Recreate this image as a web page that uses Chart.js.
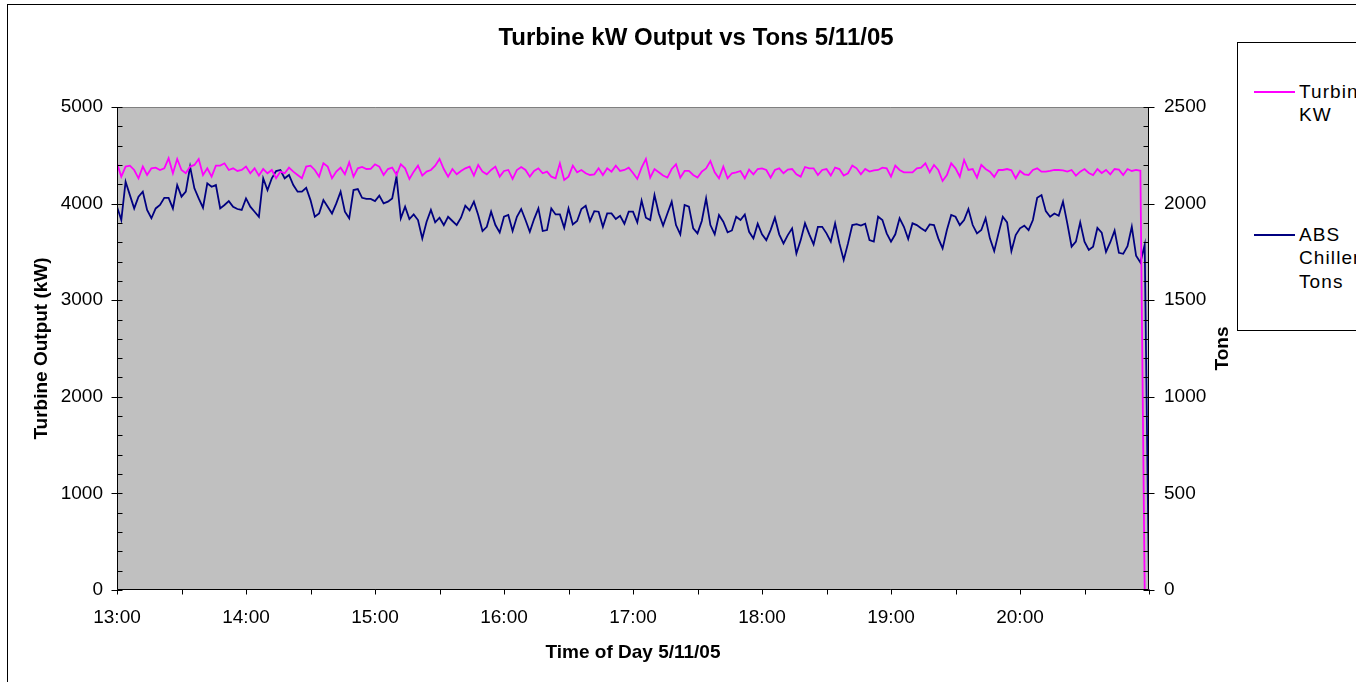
<!DOCTYPE html>
<html>
<head>
<meta charset="utf-8">
<title>Turbine kW Output vs Tons 5/11/05</title>
<script src="https://cdn.jsdelivr.net/npm/chart.js@4.4.1/dist/chart.umd.min.js"></script>
<style>
  html, body { margin: 0; padding: 0; background: #fff; overflow: hidden; }
  #wrap { position: relative; width: 1392px; height: 682px; }
  #legend {
    position: absolute; left: 1237px; top: 42px; width: 140px; height: 287px;
    border: 1px solid #000; background: #fff;
    font: 19px "Liberation Sans", Arial, sans-serif; color: #000;
  }
  .sw { position: absolute; left: 16px; width: 41px; height: 0; border-top: 2px solid; }
  .txt { position: absolute; left: 61px; line-height: 23.3px; white-space: nowrap; letter-spacing: 1.1px; }
</style>
</head>
<body>
<div id="wrap">
  <canvas id="c" width="1392" height="682"></canvas>
  <div id="legend">
    <div class="sw" style="top:48px;border-color:#FF00FF"></div>
    <div class="txt" style="top:37px">Turbine<br>KW</div>
    <div class="sw" style="top:191px;border-color:#000080"></div>
    <div class="txt" style="top:180px">ABS<br>Chiller<br>Tons</div>
  </div>
</div>
<script>
const FONT = '"Liberation Sans", Arial, sans-serif';

// minutes after 13:00, one reading every 2 minutes up to 21:00
const minutes = [];
for (let m = 0; m <= 480; m += 2) minutes.push(m);

// Turbine KW (left axis)
const turbineKW = [
  4417, 4279, 4383, 4393, 4348, 4262, 4383, 4296, 4365, 4372,
  4348, 4365, 4469, 4314, 4462, 4348, 4314, 4383, 4400, 4462,
  4296, 4365, 4279, 4393, 4393, 4417, 4348, 4365, 4338, 4348,
  4383, 4314, 4365, 4290, 4358, 4314, 4348, 4262, 4331, 4314,
  4372, 4331, 4296, 4262, 4383, 4393, 4348, 4279, 4417, 4383,
  4262, 4331, 4372, 4303, 4427, 4279, 4365, 4379, 4358,
  4359, 4407, 4383, 4296, 4358, 4372, 4296, 4407, 4365, 4255,
  4331, 4393, 4290, 4331, 4348, 4393, 4462, 4358, 4279, 4358,
  4303, 4338, 4365, 4383, 4290, 4400, 4331, 4303, 4348, 4383,
  4279, 4338, 4348, 4255, 4348, 4379, 4348, 4279, 4338, 4365,
  4314, 4331, 4279, 4262, 4417, 4245, 4279, 4393, 4324, 4348,
  4314, 4296, 4303, 4365, 4296, 4365, 4331, 4393, 4338, 4348,
  4372, 4317, 4255, 4372, 4462, 4269, 4358, 4324, 4290, 4269,
  4358, 4407, 4269, 4338, 4338, 4296, 4269, 4331, 4365, 4441,
  4324, 4262, 4383, 4262, 4314, 4324, 4338, 4262, 4352, 4303,
  4358, 4365, 4348, 4269, 4348, 4365, 4314, 4352, 4358, 4303,
  4279, 4379, 4365, 4365, 4296, 4348, 4358, 4290, 4372, 4358,
  4290, 4314, 4393, 4365, 4303, 4358, 4331, 4345, 4348,
  4372, 4365, 4279, 4393, 4348, 4324, 4324, 4324, 4365, 4372,
  4417, 4324, 4400, 4348, 4234, 4296, 4417, 4365, 4279, 4452,
  4348, 4358, 4269, 4400, 4358, 4331, 4276, 4348, 4348, 4358,
  4345, 4262, 4338, 4303, 4296, 4348, 4365, 4331, 4331, 4338,
  4348, 4348, 4345, 4331, 4348, 4290, 4331, 4358, 4317, 4296,
  4358, 4317, 4348, 4303, 4358, 4352, 4296, 4358, 4338, 4348, 4340,
  0, 0
];

// ABS Chiller Tons (right axis)
const chillerTons = [
  1984, 1915, 2113, 2044, 1975, 2036, 2062, 1967, 1924, 1975,
  1993, 2030, 2030, 1975, 2096, 2036, 2062, 2191, 2079, 2027,
  1979, 2105, 2087, 2096, 1975, 1993, 2013, 1984, 1972, 1967,
  2027, 1984, 1958, 1932, 2131, 2070, 2131, 2168, 2174, 2131,
  2148, 2096, 2062, 2062, 2082, 2018, 1932, 1949, 2018, 1984,
  1949, 2001, 2062, 1958, 1924, 2070, 2075, 2030, 2024,
  2024, 2013, 2041, 2001, 2010, 2027, 2140, 1924, 1984, 1920,
  1944, 1915, 1820, 1906, 1967, 1903, 1927, 1889, 1932, 1910,
  1889, 1927, 1989, 1965, 2010, 1941, 1858, 1880, 1958, 1889,
  1851, 1932, 1941, 1858, 1932, 1972, 1915, 1854, 1920, 1975,
  1858, 1863, 1975, 1944, 1944, 1875, 1975, 1892, 1910, 1972,
  1989, 1910, 1961, 1958, 1880, 1949, 1949, 1920, 1937, 1896,
  1958, 1958, 1903, 2016, 1927, 1915, 2044, 1949, 1886, 1949,
  2010, 1889, 1841, 1993, 1984, 1872, 1846, 1910, 2027, 1889,
  1841, 1941, 1906, 1851, 1861, 1932, 1915, 1944, 1854, 1820,
  1896, 1841, 1811, 1863, 1927, 1841, 1794, 1837, 1872, 1742,
  1811, 1898, 1841, 1789, 1880, 1880, 1846, 1803, 1898, 1794,
  1708, 1794, 1889, 1894, 1886, 1896, 1811, 1803, 1932,
  1915, 1846, 1803, 1841, 1924, 1880, 1817, 1898, 1889, 1872,
  1858, 1892, 1889, 1820, 1768, 1863, 1941, 1932, 1889, 1915,
  1972, 1889, 1846, 1863, 1924, 1820, 1754, 1846, 1932, 1903,
  1754, 1837, 1872, 1886, 1863, 1915, 2030, 2044, 1961, 1932,
  1949, 1937, 2010, 1898, 1777, 1803, 1903, 1803, 1760, 1777,
  1874, 1850, 1750, 1800, 1860, 1745, 1740, 1780, 1880, 1730, 1695,
  1786, 0
];

const kwTicks = [0, 1000, 2000, 3000, 4000, 5000];
const tonTicks = [0, 500, 1000, 1500, 2000, 2500];

function hhmm(m) {
  const h = 13 + Math.floor(m / 60);
  const mm = m % 60;
  return h + ':' + (mm < 10 ? '0' : '') + mm;
}

// grey plot area, axis lines, excel style tick marks, rotated right title
const excelFrame = {
  id: 'excelFrame',
  beforeDraw(chart) {
    const c = chart.ctx, a = chart.chartArea;
    c.save();
    c.fillStyle = '#fff';
    c.fillRect(0, 0, chart.width, chart.height);
    c.strokeStyle = '#000';
    c.lineWidth = 1;
    c.strokeRect(7.5, 4.5, chart.width - 15, chart.height + 20);
    c.fillStyle = '#C0C0C0';
    c.fillRect(a.left, a.top, a.right - a.left, a.bottom - a.top);
    c.restore();
  },
  afterDatasetsDraw(chart) {
    const c = chart.ctx, a = chart.chartArea;
    const xs = chart.scales.x, yl = chart.scales.y, yr = chart.scales.y2;
    const L = Math.round(a.left) + 0.5, R = Math.round(a.right) - 0.5;
    const T = Math.round(a.top) + 0.5, B = Math.round(a.bottom) - 0.5;
    c.save();
    c.lineWidth = 1;
    c.strokeStyle = '#808080';
    c.beginPath(); c.moveTo(L, T); c.lineTo(R, T); c.stroke();
    c.strokeStyle = '#000';
    c.beginPath();
    c.moveTo(L, T); c.lineTo(L, B); c.lineTo(R, B); c.lineTo(R, T);
    for (let v = 0; v <= 5000; v += 200) {
      const y = Math.round(yl.getPixelForValue(v)) + 0.5;
      c.moveTo(v % 1000 === 0 ? L - 6 : L, y); c.lineTo(L + 5, y);
    }
    for (let v = 0; v <= 2500; v += 100) {
      const y = Math.round(yr.getPixelForValue(v)) + 0.5;
      c.moveTo(R - 5, y); c.lineTo(v % 500 === 0 ? R + 6 : R, y);
    }
    for (let v = 0; v <= 480; v += 30) {
      const x = Math.round(xs.getPixelForValue(v)) + 0.5;
      c.moveTo(x, B); c.lineTo(x, B + 5);
    }
    c.stroke();
    c.restore();
  },
  afterDraw(chart) {
    const c = chart.ctx, a = chart.chartArea;
    c.save();
    c.translate(1223, (a.top + a.bottom) / 2);
    c.rotate(-Math.PI / 2);
    c.font = 'bold 19px ' + FONT;
    c.fillStyle = '#000';
    c.textAlign = 'center';
    c.textBaseline = 'middle';
    c.fillText('Tons', 0, 0);
    c.restore();
  }
};

const tickFont = { family: FONT, size: 19 };
const titleFont = { family: FONT, size: 19, weight: 'bold' };

const chart = new Chart(document.getElementById('c').getContext('2d'), {
  type: 'line',
  data: {
    datasets: [
      {
        label: 'Turbine KW',
        data: turbineKW.map((v, i) => ({ x: minutes[i], y: v })),
        borderColor: '#FF00FF',
        borderWidth: 1.8,
        pointRadius: 0,
        tension: 0,
        fill: false,
        yAxisID: 'y'
      },
      {
        label: 'ABS Chiller Tons',
        data: chillerTons.map((v, i) => ({ x: minutes[i], y: v })),
        borderColor: '#000080',
        borderWidth: 1.8,
        pointRadius: 0,
        tension: 0,
        fill: false,
        yAxisID: 'y2'
      }
    ]
  },
  options: {
    responsive: false,
    animation: false,
    devicePixelRatio: 1,
    layout: { padding: 0 },
    plugins: {
      legend: { display: false },
      tooltip: { enabled: false },
      title: {
        display: true,
        text: 'Turbine kW Output vs Tons 5/11/05',
        color: '#000',
        font: { family: FONT, size: 24, weight: 'bold' },
        padding: { top: 24, bottom: 54.2 }
      }
    },
    scales: {
      x: {
        type: 'linear',
        min: 0,
        max: 480,
        afterFit(s) { s.height = 92; },
        grid: { display: false, drawTicks: false },
        border: { display: false },
        ticks: {
          stepSize: 60,
          autoSkip: false,
          maxRotation: 0,
          padding: 16,
          color: '#000',
          font: tickFont,
          callback: (v) => (v >= 480 ? '' : hhmm(v))
        },
        title: {
          display: true,
          text: 'Time of Day 5/11/05',
          color: '#000',
          font: titleFont,
          padding: { top: 0, bottom: 18 }
        }
      },
      y: {
        position: 'left',
        min: 0,
        max: 5000,
        afterFit(s) { s.width = 117; },
        afterBuildTicks(s) { s.ticks = kwTicks.map(v => ({ value: v })); },
        grid: { display: false, drawTicks: false },
        border: { display: false },
        ticks: { padding: 14, color: '#000', font: tickFont, callback: (v) => String(v) },
        title: {
          display: true,
          text: 'Turbine Output (kW)',
          color: '#000',
          font: titleFont,
          padding: { top: 30, bottom: 0 }
        }
      },
      y2: {
        position: 'right',
        min: 0,
        max: 2500,
        afterFit(s) { s.width = 243; },
        afterBuildTicks(s) { s.ticks = tonTicks.map(v => ({ value: v })); },
        grid: { display: false, drawTicks: false },
        border: { display: false },
        ticks: { padding: 15, color: '#000', font: tickFont, callback: (v) => String(v) }
      }
    }
  },
  plugins: [excelFrame]
});
</script>
</body>
</html>
